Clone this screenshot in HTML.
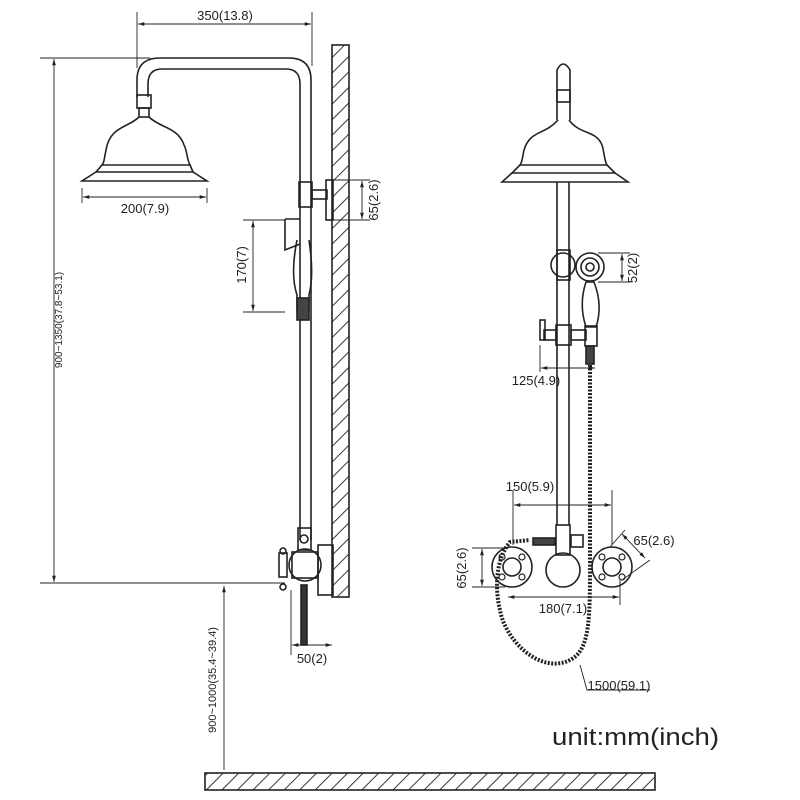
<!DOCTYPE html>
<html><head><meta charset="utf-8"><style>
html,body{margin:0;padding:0;background:#fff;}
svg{display:block;}
text{font-family:"Liberation Sans",sans-serif;fill:#222;}
</style></head><body>
<svg width="800" height="800" viewBox="0 0 800 800" xmlns="http://www.w3.org/2000/svg">
<defs>
<pattern id="h" width="11" height="11" patternUnits="userSpaceOnUse" patternTransform="rotate(45)">
<line x1="0" y1="0" x2="0" y2="11" stroke="#222" stroke-width="1.8"/>
</pattern>
<marker id="a" viewBox="0 0 10 10" refX="10" refY="5" markerWidth="7" markerHeight="7" orient="auto-start-reverse"><path d="M0,2 L10,5 L0,8z" fill="#222"/></marker>
</defs>
<g stroke="#222" fill="none" stroke-width="1.6">
<rect x="332" y="45" width="17" height="552" fill="url(#h)"/>
<rect x="205" y="773" width="450" height="17" fill="url(#h)"/>

<line x1="137" y1="12" x2="137" y2="68" stroke-width="0.9"/>
<line x1="312" y1="12" x2="312" y2="66" stroke-width="0.9"/>
<line x1="138" y1="24" x2="311" y2="24" stroke-width="0.9" marker-start="url(#a)" marker-end="url(#a)"/>
<line x1="40" y1="58" x2="150" y2="58" stroke-width="0.9"/>
<line x1="54" y1="59" x2="54" y2="582" stroke-width="0.9" marker-start="url(#a)" marker-end="url(#a)"/>
<line x1="40" y1="583" x2="285" y2="583" stroke-width="0.9"/>
<path d="M137,97 V80 Q137,58 160,58 H289 Q311,58 311,80 V540"/>
<path d="M148,97 V84 Q148,69 162,69 H286 Q300,69 300,84 V540"/>
<rect x="137" y="95" width="14" height="13"/>
<rect x="139" y="108" width="10" height="9"/>
<path d="M139,117 C128,128 110,126 106,150 C104,160 104,163 102,165 L190,165 C187,160 187,150 184,145 C178,127 160,128 149,117"/>
<path d="M102,165 L96,172 L193,172 L190,165"/>
<path d="M96,172 L82,181 L207,181 L193,172"/>
<line x1="82" y1="188" x2="82" y2="203" stroke-width="0.9"/>
<line x1="207" y1="188" x2="207" y2="203" stroke-width="0.9"/>
<line x1="83" y1="197" x2="206" y2="197" stroke-width="0.9" marker-start="url(#a)" marker-end="url(#a)"/>
<rect x="299" y="182" width="13" height="25"/>
<rect x="312" y="190" width="15" height="9"/>
<rect x="326" y="180" width="7" height="40"/>
<line x1="333" y1="180" x2="370" y2="180" stroke-width="0.9"/>
<line x1="333" y1="220" x2="370" y2="220" stroke-width="0.9"/>
<line x1="362" y1="181" x2="362" y2="219" stroke-width="0.9" marker-start="url(#a)" marker-end="url(#a)"/>
<path d="M285,219 H300 M285,219 V250 L300,244"/>
<path d="M297,240 C293,260 292,280 297,295 L297,310 L309,310 L309,295 C313,280 312,260 309,240"/>
<rect x="297" y="298" width="12" height="22" fill="#444"/>
<line x1="243" y1="220" x2="285" y2="220" stroke-width="0.9"/>
<line x1="243" y1="312" x2="285" y2="312" stroke-width="0.9"/>
<line x1="253" y1="221" x2="253" y2="311" stroke-width="0.9" marker-start="url(#a)" marker-end="url(#a)"/>
<rect x="298" y="528" width="13" height="22"/>
<circle cx="304" cy="539" r="4"/>
<circle cx="305" cy="565" r="16"/>
<rect x="292" y="552" width="26" height="26"/>
<rect x="279" y="553" width="8" height="24"/>
<circle cx="283" cy="551" r="3"/><circle cx="283" cy="587" r="3"/>
<rect x="318" y="545" width="15" height="50"/>
<rect x="301" y="585" width="6" height="60" fill="#333"/>
<line x1="291" y1="590" x2="291" y2="655" stroke-width="0.9"/>
<line x1="292" y1="645" x2="332" y2="645" stroke-width="0.9" marker-start="url(#a)" marker-end="url(#a)"/>
<line x1="224" y1="586" x2="224" y2="770" stroke-width="0.9" marker-start="url(#a)"/>

<path d="M557,120 V70 Q563,58 570,70 V120"/>
<rect x="557" y="90" width="13" height="12"/>
<path d="M558,120 C545,135 530,130 524,150 C522,160 522,162 520,165 L607,165 C604,160 604,150 602,145 C596,130 580,135 569,120"/>
<path d="M520,165 L512,173 L615,173 L607,165"/>
<path d="M512,173 L502,182 L628,182 L615,173"/>
<path d="M557,182 V525 M569,182 V525"/>
<rect x="557" y="250" width="13" height="30"/>
<circle cx="563" cy="265" r="12"/>
<circle cx="590" cy="267" r="14"/><circle cx="590" cy="267" r="9"/><circle cx="590" cy="267" r="4"/>
<path d="M586,282 C580,300 582,315 586,327 L596,327 C600,315 601,300 594,282z"/>
<line x1="598" y1="253" x2="630" y2="253" stroke-width="0.9"/>
<line x1="598" y1="282" x2="630" y2="282" stroke-width="0.9"/>
<line x1="622" y1="254" x2="622" y2="281" stroke-width="0.9" marker-start="url(#a)" marker-end="url(#a)"/>
<rect x="556" y="325" width="15" height="20"/>
<rect x="544" y="330" width="12" height="10"/><rect x="540" y="320" width="5" height="20"/>
<rect x="571" y="330" width="15" height="10"/><rect x="585" y="326" width="12" height="20"/>
<rect x="586" y="346" width="8" height="18" fill="#444"/>
<line x1="540" y1="345" x2="540" y2="372" stroke-width="0.9"/>
<line x1="541" y1="368" x2="595" y2="368" stroke-width="0.9" marker-start="url(#a)" marker-end="url(#a)"/>
<path d="M590,365 V560 C590,620 590,650 570,660 C540,675 505,640 500,610 C495,590 495,560 510,542 L530,540" stroke-dasharray="2 1.5" stroke-width="4"/>
<line x1="513" y1="490" x2="513" y2="545" stroke-width="0.9"/>
<line x1="612" y1="490" x2="612" y2="545" stroke-width="0.9"/>
<line x1="514" y1="505" x2="611" y2="505" stroke-width="0.9" marker-start="url(#a)" marker-end="url(#a)"/>
<rect x="533" y="538" width="22" height="7" fill="#444"/>
<rect x="556" y="525" width="14" height="30"/>
<rect x="571" y="535" width="12" height="12"/>
<circle cx="512" cy="567" r="20"/><circle cx="512" cy="567" r="9"/>
<circle cx="612" cy="567" r="20"/><circle cx="612" cy="567" r="9"/>
<circle cx="563" cy="570" r="17"/>
<g stroke-width="1.2"><circle cx="502" cy="557" r="3"/><circle cx="522" cy="557" r="3"/><circle cx="502" cy="577" r="3"/><circle cx="522" cy="577" r="3"/>
<circle cx="602" cy="557" r="3"/><circle cx="622" cy="557" r="3"/><circle cx="602" cy="577" r="3"/><circle cx="622" cy="577" r="3"/></g>
<line x1="472" y1="548" x2="505" y2="548" stroke-width="0.9"/>
<line x1="472" y1="587" x2="505" y2="587" stroke-width="0.9"/>
<line x1="482" y1="549" x2="482" y2="586" stroke-width="0.9" marker-start="url(#a)" marker-end="url(#a)"/>
<line x1="620" y1="580" x2="620" y2="605" stroke-width="0.9"/>
<line x1="508" y1="597" x2="619" y2="597" stroke-width="0.9" marker-start="url(#a)" marker-end="url(#a)"/>
<line x1="610" y1="547" x2="625" y2="530" stroke-width="0.9"/>
<line x1="622" y1="580" x2="650" y2="560" stroke-width="0.9"/>
<line x1="622" y1="534" x2="645" y2="558" stroke-width="0.9" marker-start="url(#a)" marker-end="url(#a)"/>
<path d="M580,665 L587,690 H650" stroke-width="0.9"/>
</g>
<g font-size="13">
<text x="225" y="20" text-anchor="middle">350(13.8)</text>
<text x="145" y="213" text-anchor="middle">200(7.9)</text>
<text x="312" y="663" text-anchor="middle">50(2)</text>
<text transform="translate(62,320) rotate(-90)" text-anchor="middle" font-size="10">900~1350(37.8~53.1)</text>
<text transform="translate(378,200) rotate(-90)" text-anchor="middle">65(2.6)</text>
<text transform="translate(246,265) rotate(-90)" text-anchor="middle">170(7)</text>
<text transform="translate(216,680) rotate(-90)" text-anchor="middle" font-size="11">900~1000(35.4~39.4)</text>
<text transform="translate(637,268) rotate(-90)" text-anchor="middle">52(2)</text>
<text x="536" y="385" text-anchor="middle">125(4.9)</text>
<text x="530" y="491" text-anchor="middle">150(5.9)</text>
<text transform="translate(466,568) rotate(-90)" text-anchor="middle">65(2.6)</text>
<text x="563" y="613" text-anchor="middle">180(7.1)</text>
<text x="654" y="545" text-anchor="middle">65(2.6)</text>
<text x="619" y="690" text-anchor="middle">1500(59.1)</text>
<text x="552" y="745" font-size="24" textLength="167" lengthAdjust="spacingAndGlyphs">unit:mm(inch)</text>
</g>
</svg>
</body></html>
